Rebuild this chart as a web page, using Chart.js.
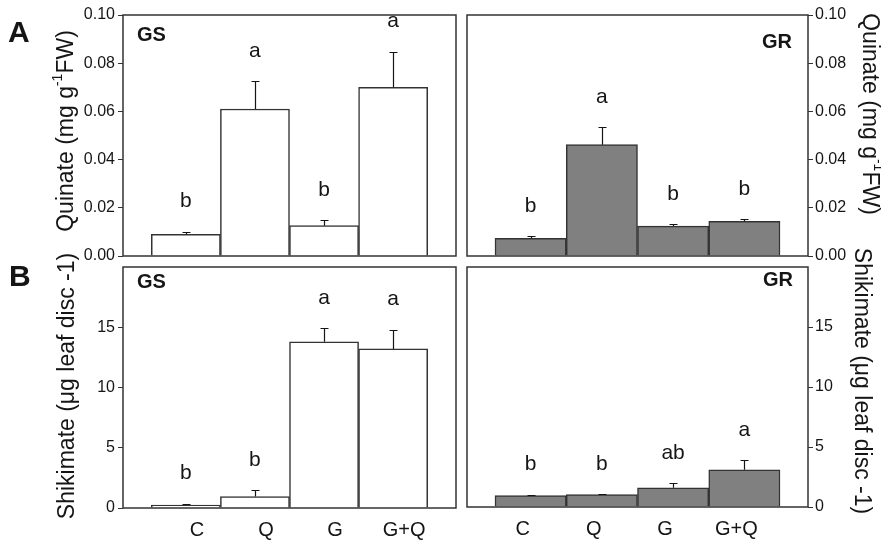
<!DOCTYPE html>
<html>
<head>
<meta charset="utf-8">
<script src="https://cdn.jsdelivr.net/npm/chart.js@4.4.1/dist/chart.umd.min.js"></script>
<style>
  html, body { margin: 0; padding: 0; background: #ffffff; }
  #wrap { position: relative; width: 881px; height: 541px; }
  #wrap canvas { position: absolute; left: 0; top: 0; }
</style>
</head>
<body>
<div id="wrap">
  <canvas id="quinateGS" width="881" height="541"></canvas>
  <canvas id="quinateGR" width="881" height="541"></canvas>
  <canvas id="shikimateGS" width="881" height="541"></canvas>
  <canvas id="shikimateGR" width="881" height="541"></canvas>
</div>
<script>
// Treatments
const categories = ['C', 'Q', 'G', 'G+Q'];

// Quinate content (mg g-1 FW), means and standard errors
const quinateGS = [0.0090, 0.0610, 0.0126, 0.0700];
const quinateGSErr = [0.0011, 0.0117, 0.0022, 0.0148];
const quinateGR = [0.0073, 0.0462, 0.0124, 0.0144];
const quinateGRErr = [0.0009, 0.0073, 0.0010, 0.0008];

// Shikimate content (µg leaf disc-1), means and standard errors
const shikimateGS = [0.25, 0.95, 13.8, 13.2];
const shikimateGSErr = [0.11, 0.55, 1.1, 1.6];
const shikimateGR = [0.95, 1.03, 1.6, 3.1];
const shikimateGRErr = [0.08, 0.07, 0.4, 0.8];

// Significance letters
const quinateGSLetters = ['b', 'a', 'b', 'a'];
const quinateGRLetters = ['b', 'a', 'b', 'b'];
const shikimateGSLetters = ['b', 'b', 'a', 'a'];
const shikimateGRLetters = ['b', 'b', 'ab', 'a'];

// Tick values
const quinateTicks = [0, 0.02, 0.04, 0.06, 0.08, 0.10];
const shikimateTicks = [0, 5, 10, 15];

const FONT = "'Liberation Sans', Arial, Helvetica, sans-serif";
const INK = '#151515';
const FRAME = '#333333';
const CAPTION_SIZE = 23;

function drawCaption(ctx, cap) {
  const base = `${CAPTION_SIZE}px ${FONT}`;
  const small = `${Math.round(CAPTION_SIZE * 0.62)}px ${FONT}`;
  ctx.save();
  ctx.translate(cap.x, cap.y);
  ctx.rotate(cap.side === 'left' ? -Math.PI / 2 : Math.PI / 2);
  ctx.textBaseline = 'middle';
  ctx.textAlign = 'left';
  ctx.fillStyle = INK;
  const widths = cap.parts.map(p => { ctx.font = p.sup ? small : base; return ctx.measureText(p.text).width; });
  let x = -widths.reduce((a, b) => a + b, 0) / 2;
  cap.parts.forEach((p, i) => {
    ctx.font = p.sup ? small : base;
    ctx.fillText(p.text, x, p.sup ? -CAPTION_SIZE * 0.38 : 0);
    x += widths[i];
  });
  ctx.restore();
}

// Frame, error bars, letters, panel tag and axis caption
const panelDecor = {
  id: 'panelDecor',
  afterDatasetsDraw(chart, args, opts) {
    const ctx = chart.ctx;
    const area = chart.chartArea;
    const yScale = chart.scales.y;
    const meta = chart.getDatasetMeta(0);
    ctx.save();

    meta.data.forEach((bar, i) => {
      const top = yScale.getPixelForValue(opts.values[i] + opts.errors[i]);
      const bx = Math.round(bar.x) + 0.5;
      const ty = Math.round(top) + 0.5;
      ctx.strokeStyle = INK;
      ctx.lineWidth = 1.2;
      ctx.beginPath();
      ctx.moveTo(bx, bar.y);
      ctx.lineTo(bx, ty);
      ctx.moveTo(bx - 4, ty);
      ctx.lineTo(bx + 4, ty);
      ctx.stroke();

      ctx.fillStyle = INK;
      ctx.font = `21px ${FONT}`;
      ctx.textAlign = 'center';
      ctx.textBaseline = 'middle';
      ctx.fillText(opts.letters[i], bar.x, top - 30);
    });

    ctx.strokeStyle = FRAME;
    ctx.lineWidth = 1.5;
    ctx.strokeRect(area.left, area.top, area.right - area.left, area.bottom - area.top);

    const tag = opts.tag;
    ctx.fillStyle = INK;
    ctx.font = `bold 20px ${FONT}`;
    ctx.textBaseline = 'middle';
    ctx.textAlign = tag.align;
    ctx.fillText(tag.text, tag.align === 'left' ? area.left + tag.dx : area.right - tag.dx, area.top + tag.dy);

    if (opts.panelLetter) {
      ctx.font = `bold 30px ${FONT}`;
      ctx.textAlign = 'left';
      ctx.fillText(opts.panelLetter.text, opts.panelLetter.x, opts.panelLetter.y);
    }
    ctx.restore();

    drawCaption(ctx, opts.caption);
  }
};

function makePanel(id, cfg) {
  const points = cfg.values.map((v, i) => ({ x: i, y: v }));
  new Chart(document.getElementById(id), {
    type: 'bar',
    data: {
      datasets: [{
        data: points,
        backgroundColor: cfg.fill,
        borderColor: FRAME,
        borderWidth: 1.5,
        barPercentage: 1,
        categoryPercentage: 1
      }]
    },
    options: {
      responsive: false,
      maintainAspectRatio: false,
      devicePixelRatio: 1,
      animation: false,
      layout: { padding: cfg.padding },
      plugins: {
        legend: { display: false },
        tooltip: { enabled: false },
        panelDecor: {
          values: cfg.values,
          errors: cfg.errors,
          letters: cfg.letters,
          tag: cfg.tag,
          caption: cfg.caption,
          panelLetter: cfg.panelLetter
        }
      },
      scales: {
        x: {
          type: 'linear',
          display: cfg.showX,
          offset: false,
          min: cfg.xRange[0],
          max: cfg.xRange[1],
          afterBuildTicks: s => { s.ticks = categories.map((c, i) => ({ value: i })); },
          afterFit: s => { if (cfg.showX) s.height = 33; },
          grid: { display: false, offset: false },
          border: { display: false },
          ticks: {
            autoSkip: false,
            maxRotation: 0,
            padding: 2,
            labelOffset: cfg.labelOffset,
            color: INK,
            font: { family: FONT, size: 20 },
            callback: v => categories[v]
          }
        },
        y: {
          type: 'linear',
          position: cfg.yPos,
          min: 0,
          max: cfg.yMax,
          afterBuildTicks: s => { s.ticks = cfg.ticks.map(v => ({ value: v })); },
          afterFit: s => { s.width = cfg.yPos === 'left' ? 80 : 73; },
          border: { display: false },
          grid: {
            drawOnChartArea: false,
            drawTicks: true,
            tickLength: 5,
            color: FRAME,
            lineWidth: 1
          },
          ticks: {
            padding: cfg.yPos === 'left' ? 3 : 2,
            color: INK,
            font: { family: FONT, size: 16 },
            callback: v => cfg.format(v)
          }
        }
      }
    },
    plugins: [panelDecor]
  });
}

const quinateCaption = [{ text: 'Quinate (mg g' }, { text: '-1', sup: true }, { text: 'FW)' }];
const shikimateCaption = [{ text: 'Shikimate (\u03BCg leaf disc -1)' }];

makePanel('quinateGS', {
  values: quinateGS, errors: quinateGSErr, letters: quinateGSLetters,
  fill: '#ffffff', ticks: quinateTicks, yMax: 0.1, yPos: 'left',
  format: v => v.toFixed(2), showX: false, labelOffset: 0,
  xRange: [-0.91, 3.91],
  padding: { left: 43, right: 425, top: 15, bottom: 285 },
  tag: { text: 'GS', align: 'left', dx: 14, dy: 20 },
  caption: { side: 'left', x: 67, y: 131, parts: quinateCaption },
  panelLetter: { text: 'A', x: 8, y: 34 }
});

makePanel('quinateGR', {
  values: quinateGR, errors: quinateGRErr, letters: quinateGRLetters,
  fill: '#808080', ticks: quinateTicks, yMax: 0.1, yPos: 'right',
  format: v => v.toFixed(2), showX: false, labelOffset: 0,
  xRange: [-0.893, 3.893],
  padding: { left: 467, right: 0, top: 15, bottom: 285 },
  tag: { text: 'GR', align: 'right', dx: 16, dy: 27 },
  caption: { side: 'right', x: 869, y: 114, parts: quinateCaption }
});

makePanel('shikimateGS', {
  values: shikimateGS, errors: shikimateGSErr, letters: shikimateGSLetters,
  fill: '#ffffff', ticks: shikimateTicks, yMax: 20, yPos: 'left',
  format: v => String(v), showX: true, labelOffset: 11,
  xRange: [-0.91, 3.91],
  padding: { left: 43, right: 425, top: 267, bottom: 0 },
  tag: { text: 'GS', align: 'left', dx: 14, dy: 15 },
  caption: { side: 'left', x: 68, y: 386, parts: shikimateCaption },
  panelLetter: { text: 'B', x: 9, y: 278 }
});

makePanel('shikimateGR', {
  values: shikimateGR, errors: shikimateGRErr, letters: shikimateGRLetters,
  fill: '#808080', ticks: shikimateTicks, yMax: 20, yPos: 'right',
  format: v => String(v), showX: true, labelOffset: -8,
  xRange: [-0.893, 3.893],
  padding: { left: 467, right: 0, top: 267, bottom: 1 },
  tag: { text: 'GR', align: 'right', dx: 15, dy: 13 },
  caption: { side: 'right', x: 861, y: 381, parts: shikimateCaption }
});
</script>
</body>
</html>
